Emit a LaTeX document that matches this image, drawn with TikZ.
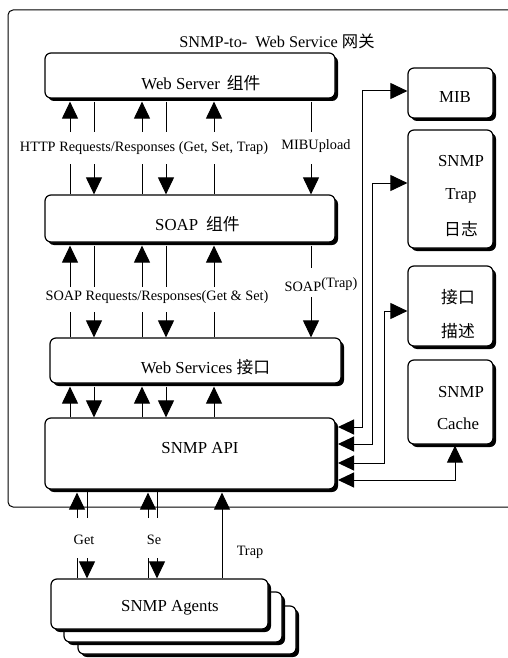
\documentclass[tikz,border=0pt]{standalone}
\usepackage{fontspec}
\setmainfont{Liberation Serif}
\newfontfamily\cjk{Noto Sans CJK SC}
\usetikzlibrary{arrows.meta,shadows}
\newcommand\bxf{\fontsize{16.8}{20}\selectfont}
\newcommand\lbf{\fontsize{14.3}{17}\selectfont}
\newcommand\ttf{\fontsize{16.3}{20}\selectfont}
\begin{document}
\begin{tikzpicture}[x=1pt,y=-1pt,
  box/.style={draw, line width=1.2pt, rounded corners=6pt, fill=white,
    drop shadow={shadow xshift=3pt, shadow yshift=-3pt, fill=black, opacity=1}},
  txt/.style={inner sep=0pt, font=\bxf},
  lbl/.style={inner sep=0pt, font=\lbf},
  ln/.style={line width=1pt},
  arr/.style={ln, -{Triangle[length=17pt,width=16pt]}},
  arrb/.style={ln, {Triangle[length=16pt,width=15pt]}-{Triangle[length=17pt,width=16pt]}},
]
\useasboundingbox (0,0) rectangle (508,658);
% outer gateway frame (right edge off the picture)
\draw[line width=1pt, rounded corners=5pt] (8,10) rectangle (540,507);
\node[txt, font=\ttf] (title) at (277,41) {SNMP-to-\ \ Web Service {\cjk 网关}};

% main stack
\node[box, minimum width=290pt, minimum height=45pt] (ws) at (190,75.5) {};
\node[box, minimum width=290pt, minimum height=47pt] (soap) at (190,218.5) {};
\node[box, minimum width=291pt, minimum height=45pt] (wsi) at (195.5,360.5) {};
\node[box, minimum width=290pt, minimum height=71pt] (api) at (190,453.5) {};
\node[txt] (tws) at (201,83) {Web Server\hspace{7pt}{\cjk 组件}};
\node[txt] (tsoap) at (197.5,224) {SOAP\hspace{8pt}{\cjk 组件}};
\node[txt] (twsi) at (205.5,367) {Web Services {\cjk 接口}};
\node[txt] (tapi) at (200,448) {SNMP API};

% right column
\node[box, minimum width=85pt, minimum height=50pt] (mib) at (450.5,93) {};
\node[box, minimum width=85pt, minimum height=118pt] (trap) at (450.5,189) {};
\node[box, minimum width=85pt, minimum height=80pt] (iface) at (450.5,306) {};
\node[box, minimum width=85pt, minimum height=84pt] (cache) at (450.5,402) {};
\node[txt] (tmib) at (455,97) {MIB};
\node[txt] (ttrap1) at (461,161) {SNMP};
\node[txt] (ttrap2) at (461,196) {Trap};
\node[txt] (ttrap3) at (461,229) {\cjk 日志};
\node[txt] (tif1) at (458,297) {\cjk 接口};
\node[txt] (tif2) at (458,331) {\cjk 描述};
\node[txt] (tc1) at (461,392) {SNMP};
\node[txt] (tc2) at (458,424) {Cache};

% agents stack
\node[box, minimum width=218pt, minimum height=48pt] (ag3) at (187,630) {};
\node[box, minimum width=218pt, minimum height=50pt] (ag2) at (173,617) {};
\node[box, minimum width=217pt, minimum height=50pt] (agents) at (159.5,604) {};
\node[txt] (tag) at (170,608) {SNMP Agents};

% labels
\node[lbl] (lhttp) at (144,148) {HTTP Requests/Responses (Get, Set, Trap)};
\node[lbl] (lmib) at (316,146) {MIBUpload};
\node[lbl] (lsoap) at (157,297) {SOAP Requests/Responses(Get \& Set)};
\node[lbl] (lstrap) at (321,285) {SOAP\raisebox{4pt}{(Trap)}};
\node[lbl] (lget) at (84,540) {Get};
\node[lbl] (lse) at (154,540) {Se};
\node[lbl] (ltrap) at (250,552) {Trap};

% helper coordinates
\coordinate (wsb) at ([yshift=-3pt]ws.south);
\coordinate (soapb) at ([yshift=-3pt]soap.south);
\coordinate (wsib) at ([yshift=-3pt]wsi.south);
\coordinate (apib) at ([yshift=-3pt]api.south);
\coordinate (g1) at (0,132);
\coordinate (g2) at (0,164);
\coordinate (g3) at (0,287);
\coordinate (g4) at (0,312);
\coordinate (g5) at (0,268);
\coordinate (g6) at (0,297);
\coordinate (g7) at (0,518);
\coordinate (g8) at (0,558);

% Web Server <-> SOAP
\foreach \x in {70,142,214}{
  \coordinate (k) at (\x,0);
  \draw[arr] (g1 -| k) -- (wsb -| k);
  \draw[ln] (soap.north -| k) -- (g2 -| k);
}
\foreach \x in {94,166,311}{
  \coordinate (k) at (\x,0);
  \draw[ln] (wsb -| k) -- (g1 -| k);
  \draw[arr] (g2 -| k) -- (soap.north -| k);
}
% SOAP <-> Web Services
\foreach \x in {70,142,214}{
  \coordinate (k) at (\x,0);
  \draw[arr] (g3 -| k) -- (soapb -| k);
  \draw[ln] (wsi.north -| k) -- (g4 -| k);
}
\foreach \x in {94,166}{
  \coordinate (k) at (\x,0);
  \draw[ln] (soapb -| k) -- (g3 -| k);
  \draw[arr] (g4 -| k) -- (wsi.north -| k);
}
\coordinate (k6) at (311,0);
\draw[ln] (soapb -| k6) -- (g5 -| k6);
\draw[arr] (g6 -| k6) -- (wsi.north -| k6);
% Web Services <-> SNMP API
\foreach \x in {70,142,214}{
  \coordinate (k) at (\x,0);
  \draw[arr] (api.north -| k) -- (wsib -| k);
}
\foreach \x in {94,166}{
  \coordinate (k) at (\x,0);
  \draw[arr] (wsib -| k) -- (api.north -| k);
}
% SNMP API <-> agents
\foreach \u/\d in {77/87,148/157}{
  \coordinate (ku) at (\u,0);
  \coordinate (kd) at (\d,0);
  \draw[arr] (g7 -| ku) -- (apib -| ku);
  \draw[ln] (api.south -| kd) -- (g7 -| kd);
  \draw[ln] (g8 -| ku) -- (agents.north -| ku);
  \draw[arr] (g8 -| kd) -- (agents.north -| kd);
}
\coordinate (kt) at (222,0);
\draw[arr] (agents.north -| kt) -- (apib -| kt);

% SNMP API <-> right boxes
\coordinate (p1) at (338,427);
\coordinate (p2) at (338,444);
\coordinate (p3) at (338,463);
\coordinate (p4) at (338,480);
\coordinate (v1) at (362,91);
\coordinate (v2) at (372,183);
\coordinate (v3) at (384,311);
\coordinate (v4) at (455,0);
\draw[arrb] (p1) -| (v1) -- (mib.west |- v1);
\draw[arrb] (p2) -| (v2) -- (trap.west |- v2);
\draw[arrb] (p3) -| (v3) -- (iface.west |- v3);
\draw[arrb] (p4) -| ([yshift=-1pt]cache.south -| v4);
\end{tikzpicture}
\end{document}
